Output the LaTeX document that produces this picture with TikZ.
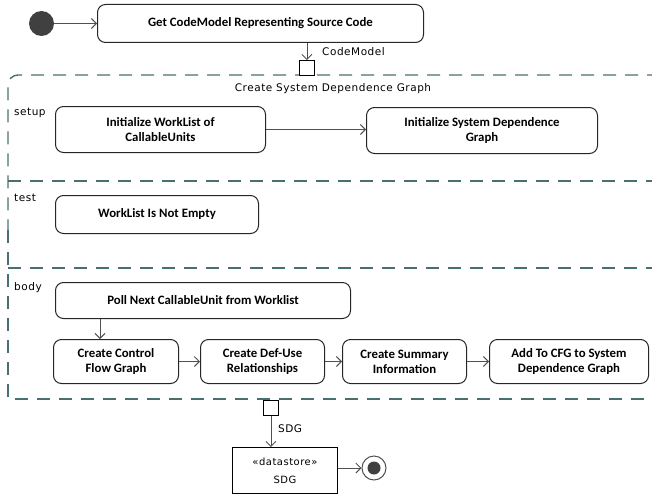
\documentclass[tikz,border=0pt]{standalone}
\usepackage{fontspec}
\setmainfont{Carlito}
\newfontfamily\labelfont[LetterSpace=5]{DejaVu Sans}
\usetikzlibrary{arrows.meta}
\definecolor{regioncol}{RGB}{72,112,112}
\definecolor{linecol}{RGB}{80,80,80}
\definecolor{dotcol}{RGB}{64,64,64}
\begin{document}
\begin{tikzpicture}[x=1pt,y=-1pt,
  action/.style={draw=black!85, line width=1pt, rounded corners=8pt, align=center,
    font=\fontsize{12.8}{15}\selectfont\bfseries, inner sep=0pt, anchor=north west},
  flow/.style={draw=linecol, line width=0.9pt, -{Straight Barb[length=5pt,width=10pt]}},
  region/.style={draw=regioncol, line width=1.4pt, dash pattern=on 13pt off 9pt},
  small/.style={font=\labelfont\fontsize{10.5}{12}\selectfont, inner sep=0pt},
  objpin/.style={draw=black, line width=0.9pt, minimum size=15pt, inner sep=0pt, fill=white}
]
\useasboundingbox (0,0) rectangle (652,495);

% expansion region: rounded top-left corner, open to the right
\draw[region, rounded corners=10pt] (660,75) -- (8,75) -- (8,240);
\draw[region] (8,230) -- (8,399) -- (660,399);
\draw[region] (8,181) -- (660,181);
\draw[region] (8,268) -- (660,268);

\node[small, anchor=center] (title) at (333,89) {Create System Dependence Graph};
\node[small, anchor=west] (lsetup) at (14,113) {setup};
\node[small, anchor=west] (ltest) at (14,198) {test};
\node[small, anchor=west] (lbody) at (14,288) {body};

% initial node and first action
\node[circle, fill=dotcol, minimum size=25pt, inner sep=0pt] (start) at (41.5,23.5) {};
\node[action, minimum width=326pt, minimum height=38pt] (get) at (97,4) {Get CodeModel Representing Source Code};
\node[objpin, anchor=north west] (pin1) at (299,60) {};
\node[small, anchor=west] (lcm) at (322,52) {CodeModel};

% setup
\node[action, minimum width=210pt, minimum height=46pt] (initwl) at (55,106) {Initialize WorkList of\\CallableUnits};
\node[action, minimum width=231pt, minimum height=46pt] (initsdg) at (366,107) {Initialize System Dependence\\Graph};

% test
\node[action, minimum width=203pt, minimum height=38pt] (notempty) at (55,195) {WorkList Is Not Empty};

% body
\node[action, minimum width=295pt, minimum height=36pt] (poll) at (55,282) {Poll Next CallableUnit from Worklist};
\node[action, minimum width=125pt, minimum height=44pt] (cfg) at (53,339) {Create Control\\Flow Graph};
\node[action, minimum width=124pt, minimum height=44pt] (defuse) at (200,339) {Create Def-Use\\Relationships};
\node[action, minimum width=124pt, minimum height=44pt] (summary) at (342,339) {Create Summary\\Information};
\node[action, minimum width=159pt, minimum height=44pt] (addcfg) at (489,339) {Add To CFG to System\\Dependence Graph};

% output pin, datastore and final node
\node[objpin, anchor=north west] (pin2) at (263,400) {};
\node[small, anchor=west] (lsdg) at (278,429) {SDG};
\node[draw=black, line width=0.9pt, minimum width=105pt, minimum height=46pt, anchor=north west,
  inner sep=0pt, align=center, font=\labelfont\fontsize{10}{18}\selectfont] (store) at (232,447) {«datastore»\\SDG};
\node[circle, draw=linecol, line width=1pt, minimum size=24pt, inner sep=0pt] (final) at (374,468) {};
\node[circle, fill=dotcol, minimum size=13pt, inner sep=0pt] (finaldot) at (final.center) {};

% flows
\draw[flow] (start) -- (get.west |- start);
\draw[flow] (get.south -| pin1) -- (pin1.north);
\draw[flow] (initwl.east) -- (initwl.east -| initsdg.west);
\draw[flow] ([xshift=45pt]poll.south west) -- ([xshift=45pt]poll.south west |- cfg.north);
\draw[flow] (cfg.east) -- (defuse.west);
\draw[flow] (defuse.east) -- (summary.west);
\draw[flow] (summary.east) -- (addcfg.west);
\draw[flow] (pin2.south) -- (pin2.south |- store.north);
\draw[flow] (store.east |- final) -- (final.west);
\end{tikzpicture}
\end{document}
